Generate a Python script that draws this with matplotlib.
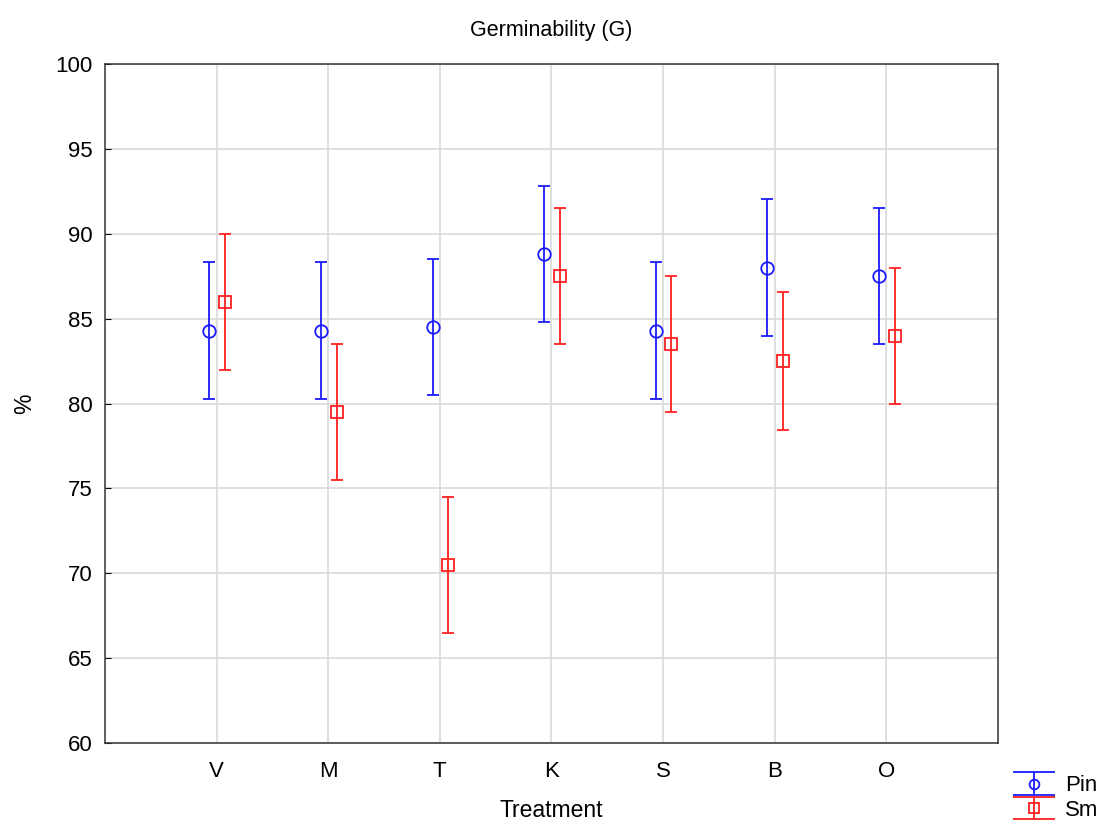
import numpy as np
import matplotlib
matplotlib.use("Agg")
import matplotlib.pyplot as plt

plt.rcParams['font.family'] = ['Liberation Sans', 'DejaVu Sans']

treatments = ["V", "M", "T", "K", "S", "B", "O"]
pin_mean = [84.3, 84.3, 84.5, 88.8, 84.3, 88.0, 87.5]
sm_mean = [86.0, 79.5, 70.5, 87.5, 83.5, 82.5, 84.0]
pin_err = [4.05, 4.05, 4.0, 4.0, 4.05, 4.05, 4.0]
sm_err = [4.0, 4.0, 4.0, 4.0, 4.0, 4.05, 4.0]

blue = '#1a1aff'
red = '#ff2020'

fig = plt.figure(figsize=(11.05, 8.23), dpi=100)
ax = fig.add_axes([0.095, 0.0972, 0.808, 0.825])

x = np.arange(1, len(treatments) + 1)
ax.errorbar(x - 0.065, pin_mean, yerr=pin_err, fmt='o', color=blue,
            mfc='none', mec=blue, ms=9, mew=1.3, elinewidth=1.3,
            capsize=4.5, capthick=1.3)
ax.errorbar(x + 0.075, sm_mean, yerr=sm_err, fmt='s', color=red,
            mfc='none', mec=red, ms=9, mew=1.3, elinewidth=1.3,
            capsize=4.5, capthick=1.3)

# legend-only handles with wide caps, like the original
h1 = ax.errorbar([np.nan], [np.nan], yerr=[1], fmt='o', color=blue, mfc='none',
                 mec=blue, ms=7, mew=1.3, elinewidth=1.3, capsize=15, capthick=1.3)
h2 = ax.errorbar([np.nan], [np.nan], yerr=[1], fmt='s', color=red, mfc='none',
                 mec=red, ms=7, mew=1.3, elinewidth=1.3, capsize=15, capthick=1.3)

ax.set_xlim(0, 8)
ax.set_ylim(60, 100)
ax.set_xticks(x)
ax.set_xticklabels(treatments)
ax.set_yticks(np.arange(60, 101, 5))
ax.grid(True, color='#d9d9d9', linewidth=1.2)
ax.set_axisbelow(True)
ax.tick_params(axis='both', direction='in', labelsize=16, length=4)
ax.tick_params(axis='y', pad=9)
ax.tick_params(axis='x', length=0, pad=13)
for sp in ax.spines.values():
    sp.set_color('#333333')
    sp.set_linewidth(1.1)

ax.set_title("Germinability (G)", fontsize=15.5, pad=20)
ax.set_xlabel("Treatment", fontsize=16.5, labelpad=12)
ax.set_ylabel("%", fontsize=16.5, labelpad=14)

fig.legend([h1, h2], ["Pin", "Sm"], loc='lower right', bbox_to_anchor=(1.008, -0.016),
           frameon=False, fontsize=16, handlelength=2.0, handletextpad=0.4,
           labelspacing=0.15, borderpad=0.2)

fig.savefig("out.png", dpi=100)
